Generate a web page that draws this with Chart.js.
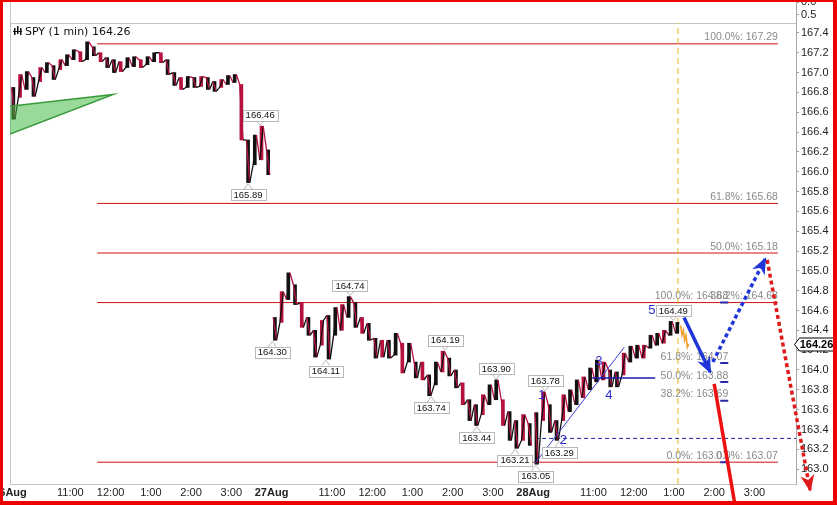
<!DOCTYPE html>
<html lang="en">
<head>
<meta charset="UTF-8">
<title>SPY (1 min)</title>
<style>
  html, body { margin: 0; padding: 0; background: #fff; }
</style>
<script src="https://cdn.jsdelivr.net/npm/chart.js"></script>
</head>
<body>
<canvas id="spy" width="837" height="505"></canvas>
<script>
// x values are trading minutes from 26 Aug 9:30 (390 per session)
const sessionStart = [0, 390, 780];

// 10-minute highs / lows
const day1Hi = [166.85,166.98,167.01,166.95,167.05,167.10,167.07,167.13,167.18,167.23,167.21,167.31,167.26,167.20,167.15,167.13,167.11,167.15,167.16,167.13,167.16,167.20,167.20,167.13,167.00,166.95,166.96,166.95,166.96,166.95,166.91,166.93,166.97,166.98,166.88,166.32,166.37,166.46,166.22];
const day1Lo = [166.53,166.75,166.83,166.76,166.91,167.00,166.93,167.03,167.07,167.13,167.11,167.13,167.17,167.11,167.05,167.00,167.01,167.05,167.06,167.05,167.08,167.11,167.10,166.98,166.87,166.83,166.85,166.85,166.86,166.83,166.81,166.85,166.88,166.90,166.32,165.89,166.07,166.12,165.97];
const day2Hi = [164.53,164.79,164.98,164.86,164.68,164.53,164.40,164.50,164.55,164.63,164.66,164.74,164.68,164.53,164.47,164.32,164.30,164.30,164.37,164.27,164.27,164.08,164.08,163.95,164.08,164.19,164.12,164.00,163.87,163.70,163.65,163.75,163.85,163.90,163.70,163.58,163.49,163.55,163.46];
const day2Lo = [164.30,164.48,164.71,164.66,164.43,164.35,164.13,164.25,164.11,164.35,164.40,164.53,164.43,164.37,164.30,164.12,164.13,164.12,164.15,163.97,164.08,163.92,163.90,163.74,163.85,163.98,163.94,163.82,163.65,163.49,163.44,163.55,163.65,163.70,163.44,163.29,163.21,163.29,163.24];
const day3Hi = [163.57,163.78,163.65,163.49,163.75,163.80,163.90,163.93,164.02,164.10,164.08,164.00,163.98,164.17,164.24,164.25,164.25,164.35,164.37,164.40,164.49,164.48];
const day3Lo = [163.05,163.49,163.37,163.29,163.49,163.58,163.65,163.72,163.80,163.88,163.90,163.83,163.83,163.95,164.08,164.12,164.12,164.22,164.25,164.27,164.35,164.37];

// latest bars (highlighted)
const lastM = [1000, 1002, 1004, 1006, 1008, 1010, 1012];
const lastP = [164.45, 164.35, 164.40, 164.30, 164.35, 164.23, 164.26];
const lastPrice = 164.26;

// x axis
const xTickVals = [0, 90, 150, 210, 270, 330, 390, 480, 540, 600, 660, 720, 780, 870, 930, 990, 1050, 1110];
const xTickText = ['26Aug','11:00','12:00','1:00','2:00','3:00','27Aug','11:00','12:00','1:00','2:00','3:00','28Aug','11:00','12:00','1:00','2:00','3:00'];

// fibonacci retracements
const fibA = [167.29, 165.68, 165.18, 164.68, 163.07];
const fibB = [164.68, 164.07, 163.88, 163.69, 163.07];
const fibPct = ['100.0%', '61.8%', '50.0%', '38.2%', '0.0%'];
const fibSpan = [130, 1145];
const markSpan = [1059, 1071];

// swing labels
const pivotM = [373, 355, 391, 507, 471, 649, 628, 725, 696, 753, 784, 798, 819, 989];
const pivotP = [166.46, 165.89, 164.30, 164.74, 164.11, 164.19, 163.74, 163.90, 163.44, 163.21, 163.05, 163.78, 163.29, 164.49];
const pivotHigh = [1, 0, 0, 1, 0, 1, 0, 1, 0, 0, 0, 1, 0, 1];

// elliott wave count
const waveText = ['1', '2', '3', '4', '5'];
const waveM = [793, 825, 878, 893, 957];
const waveP = [163.74, 163.29, 164.09, 163.74, 164.60];

// drawn lines
const trendLine = [[783, 163.06], [916, 164.23]];
const wave4Line = [[868, 163.92], [962, 163.92]];
const supportLine = [[783, 163.31], [1172, 163.31]];
const nowLine = [[996, 162.85], [996, 167.5]];
const wedge = [[0, 166.66], [154, 166.78], [0, 166.38]];
const blueDown = [[1005, 164.53], [1044, 163.98]];
const blueUp = [[1048, 164.08], [1126, 165.12]];
const redDown = [[1050, 163.86], [1081, 162.64]];
const redDotDown = [[1129, 165.11], [1193, 162.79]];

const pts = a => a.map(p => ({x: p[0], y: p[1]}));
const UP = '#111111', DOWN = '#b5123e';

function sessionPoints(start, hi, lo) {
  const out = [];
  let prev = null;
  hi.forEach((h, i) => {
    const l = lo[i], mid = (h + l) / 2;
    const up = prev !== null && mid >= prev;
    out.push({x: start + i * 10 + 2.5, y: up ? l : h}, {x: start + i * 10 + 7.5, y: up ? h : l});
    prev = mid;
  });
  return out;
}
function sessionBars(start, hi, lo) {
  return hi.map((h, i) => ({x: start + i * 10 + 5, y: [lo[i], h]}));
}
const pricePts = [].concat(
  sessionPoints(sessionStart[0], day1Hi, day1Lo), [{x: 389, y: null}],
  sessionPoints(sessionStart[1], day2Hi, day2Lo), [{x: 779, y: null}],
  sessionPoints(sessionStart[2], day3Hi, day3Lo)
);
const priceBars = [].concat(
  sessionBars(sessionStart[0], day1Hi, day1Lo),
  sessionBars(sessionStart[1], day2Hi, day2Lo),
  sessionBars(sessionStart[2], day3Hi, day3Lo)
);

const fibLinePts = [];
fibA.forEach(v => fibLinePts.push({x: fibSpan[0], y: v}, {x: fibSpan[1], y: v}, {x: fibSpan[1] + 1, y: null}));
const markPts = [];
fibB.forEach(v => markPts.push({x: markSpan[0], y: v}, {x: markSpan[1], y: v}, {x: markSpan[1] + 1, y: null}));

const FONT = '"Liberation Sans", Arial, sans-serif';
Chart.defaults.font.family = FONT;

function line(data, color, width, extra) {
  return Object.assign({
    type: 'line', data: data, yAxisID: 'y', xAxisID: 'x',
    borderColor: color, borderWidth: width,
    pointRadius: 0, fill: false, tension: 0, spanGaps: false
  }, extra || {});
}

const datasets = [
  line(fibLinePts, '#cf1010', 1, {order: 10}),
  line(pts(nowLine), '#e2b41c', 1, {order: 9, borderDash: [6, 4]}),
  line(pts(supportLine), '#1c1ca8', 1, {order: 8, borderDash: [4, 3]}),
  {
    type: 'bar', data: priceBars, yAxisID: 'y', xAxisID: 'x', order: 6,
    barThickness: 3, borderWidth: 0, grouped: false,
    backgroundColor: c => (c.dataIndex % 3 === 1 ? DOWN : UP)
  },
  line(pricePts, UP, 1.3, {order: 5, segment: {
    borderColor: c => c.p1.parsed.y >= c.p0.parsed.y ? UP : DOWN
  }}),
  line(lastM.map((m, i) => ({x: m, y: lastP[i]})), '#f0a030', 1.6, {order: 4}),
  line(pts(trendLine), '#3a3ad6', 1, {order: 3}),
  line(pts(wave4Line), '#1c1ca8', 1.5, {order: 3}),
  line(markPts, '#2a2aa8', 2, {order: 3}),
  line(pts(wedge), '#3a9a3a', 1.5, {order: 2, fill: 'shape', backgroundColor: 'rgba(70,185,70,0.55)'}),
  line(pts(blueDown), '#1f35d8', 3.5, {order: 1, arrow: true}),
  line(pts(blueUp), '#1f35d8', 3.5, {order: 1, arrow: true, borderDash: [4, 3]}),
  line(pts(redDown), '#ee1111', 3.5, {order: 1, clip: false}),
  line(pts(redDotDown), '#e01a1a', 3.5, {order: 1, arrow: true, clip: false, borderDash: [4, 3]})
];

function arrowHead(ctx, a, b, color) {
  const ang = Math.atan2(b.y - a.y, b.x - a.x), len = 15, w = 7;
  ctx.save();
  ctx.translate(b.x, b.y);
  ctx.rotate(ang);
  ctx.fillStyle = color;
  ctx.beginPath();
  ctx.moveTo(2, 0);
  ctx.lineTo(-len, -w);
  ctx.lineTo(-len + 5, 0);
  ctx.lineTo(-len, w);
  ctx.closePath();
  ctx.fill();
  ctx.restore();
}

const overlay = {
  id: 'overlay',
  beforeDatasetsDraw(chart) {
    const {ctx, chartArea} = chart;
    const x = chart.scales.x, y = chart.scales.y;
    ctx.save();
    // frame
    ctx.strokeStyle = '#c4c4c4';
    ctx.lineWidth = 1;
    ctx.beginPath();
    ctx.moveTo(chartArea.left + 0.5, 0);
    ctx.lineTo(chartArea.left + 0.5, chartArea.bottom);
    ctx.moveTo(chartArea.left, y.top + 0.5);
    ctx.lineTo(chartArea.right, y.top + 0.5);
    ctx.stroke();
    // fib level texts
    ctx.font = '10.5px ' + FONT;
    ctx.fillStyle = '#8a8a8a';
    ctx.textAlign = 'right';
    ctx.textBaseline = 'bottom';
    fibA.forEach((v, i) => ctx.fillText(fibPct[i] + ': ' + v.toFixed(2), x.getPixelForValue(fibSpan[1]), y.getPixelForValue(v) - 1));
    fibB.forEach((v, i) => ctx.fillText(fibPct[i] + ': ' + v.toFixed(2), x.getPixelForValue(markSpan[1]), y.getPixelForValue(v) - 1));
    ctx.restore();
  },
  afterDatasetsDraw(chart) {
    const {ctx} = chart;
    const x = chart.scales.x, y = chart.scales.y;
    ctx.save();
    // arrow heads
    chart.data.datasets.forEach((ds, i) => {
      if (!ds.arrow) return;
      const d = chart.getDatasetMeta(i).data;
      arrowHead(ctx, d[d.length - 2], d[d.length - 1], ds.borderColor);
    });
    // swing price boxes
    ctx.font = '9.5px ' + FONT;
    ctx.textAlign = 'center';
    ctx.textBaseline = 'middle';
    pivotP.forEach((p, i) => {
      const px = x.getPixelForValue(pivotM[i]), py = y.getPixelForValue(p);
      const txt = p.toFixed(2);
      const w = ctx.measureText(txt).width + 6, h = 11;
      const cy = pivotHigh[i] ? py - 11 : py + 12;
      const edge = pivotHigh[i] ? cy + h / 2 : cy - h / 2;
      ctx.fillStyle = '#fff';
      ctx.strokeStyle = '#b8b8b8';
      ctx.lineWidth = 1;
      ctx.beginPath();
      ctx.moveTo(px - 4, edge);
      ctx.lineTo(px, pivotHigh[i] ? py - 1 : py + 1);
      ctx.lineTo(px + 4, edge);
      ctx.stroke();
      ctx.fillRect(Math.round(px - w / 2) + 0.5, Math.round(cy - h / 2) + 0.5, Math.round(w), h);
      ctx.strokeRect(Math.round(px - w / 2) + 0.5, Math.round(cy - h / 2) + 0.5, Math.round(w), h);
      ctx.fillStyle = '#111';
      ctx.fillText(txt, px, cy + 0.5);
    });
    // wave numbers
    ctx.font = '13px ' + FONT;
    ctx.fillStyle = '#2a2ad0';
    waveText.forEach((t, i) => ctx.fillText(t, x.getPixelForValue(waveM[i]), y.getPixelForValue(waveP[i])));
    // title with icon
    ctx.fillStyle = '#111';
    ctx.fillRect(14, 28, 1.5, 7);
    ctx.fillRect(17, 26, 1.5, 8);
    ctx.fillRect(20, 28, 1.5, 7);
    ctx.fillRect(13, 31, 9, 1);
    ctx.font = '11px "DejaVu Sans", sans-serif';
    ctx.textAlign = 'left';
    ctx.textBaseline = 'alphabetic';
    ctx.fillText('SPY (1 min) ' + lastPrice.toFixed(2), 25, 35);
    ctx.restore();
  },
  afterDraw(chart) {
    const {ctx} = chart;
    const y = chart.scales.y;
    ctx.save();
    // last price tag on the axis
    const cy = Math.round(y.getPixelForValue(lastPrice)) + 0.5;
    ctx.fillStyle = '#fff';
    ctx.strokeStyle = '#000';
    ctx.lineWidth = 1;
    ctx.beginPath();
    ctx.moveTo(794.5, cy);
    ctx.lineTo(799.5, cy - 6.5);
    ctx.lineTo(833.5, cy - 6.5);
    ctx.lineTo(833.5, cy + 6.5);
    ctx.lineTo(799.5, cy + 6.5);
    ctx.closePath();
    ctx.fill();
    ctx.stroke();
    ctx.fillStyle = '#000';
    ctx.font = 'bold 11px ' + FONT;
    ctx.textAlign = 'center';
    ctx.textBaseline = 'middle';
    ctx.fillText(lastPrice.toFixed(2), 816.5, cy + 0.5);
    // red frame
    ctx.fillStyle = '#ee0000';
    ctx.fillRect(0, 0, 837, 2);
    ctx.fillRect(0, 0, 3, 505);
    ctx.fillRect(833, 0, 4, 505);
    ctx.fillRect(0, 501, 837, 4);
    ctx.restore();
  }
};

const yAxisStyle = {
  grid: {display: true, drawOnChartArea: false, drawTicks: true, tickLength: 3, color: '#9a9a9a'},
  border: {display: true, color: '#a8a8a8', dash: [1, 2]},
  afterFit(s) { s.width = 37; s.paddingTop = 0; s.paddingBottom = 0; }
};

new Chart(document.getElementById('spy'), {
  type: 'line',
  data: {datasets: datasets},
  options: {
    responsive: false,
    animation: false,
    events: [],
    layout: {padding: {left: 10, top: 0, right: 4, bottom: 0}},
    plugins: {legend: {display: false}, tooltip: {enabled: false}},
    scales: {
      x: {
        type: 'linear', min: 0, max: 1172, offset: false,
        grid: {display: false, drawTicks: false, offset: false},
        border: {display: true, color: '#c4c4c4'},
        afterBuildTicks(s) { s.ticks = xTickVals.map(v => ({value: v})); },
        afterFit(s) { s.height = 21; s.paddingLeft = 0; s.paddingRight = 0; },
        ticks: {
          autoSkip: false, maxRotation: 0, padding: 2, color: '#222',
          font: c => ({size: 11, weight: /Aug/.test(xTickText[c.index]) ? 'bold' : 'normal'}),
          callback: (v, i) => xTickText[i]
        }
      },
      yTop: Object.assign({
        type: 'linear', position: 'right', stack: 'pane', stackWeight: 23,
        reverse: true, min: -0.08, max: 0.81,
        afterBuildTicks(s) { s.ticks = [{value: 0}, {value: 0.5}]; },
        ticks: {autoSkip: false, color: '#222', font: {size: 11}, padding: 2, callback: v => v.toFixed(1)}
      }, yAxisStyle),
      y: Object.assign({
        type: 'linear', position: 'right', stack: 'pane', stackWeight: 461,
        min: 162.85, max: 167.5,
        ticks: {stepSize: 0.2, autoSkip: false, includeBounds: false, color: '#222', font: {size: 11}, padding: 2,
          callback: v => v.toFixed(1)}
      }, yAxisStyle)
    }
  },
  plugins: [overlay]
});
</script>
</body>
</html>
